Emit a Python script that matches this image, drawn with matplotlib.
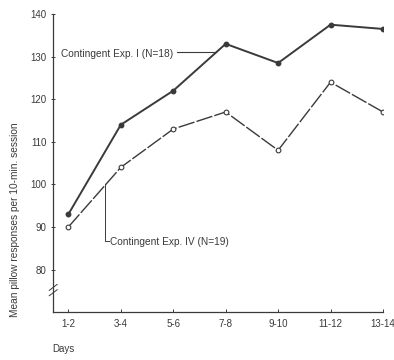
import matplotlib.pyplot as plt

plt.rcParams['font.family'] = ['Liberation Sans', 'DejaVu Sans']

DAYS = ["1-2", "3-4", "5-6", "7-8", "9-10", "11-12", "13-14"]
EXP_I = [93, 114, 122, 133, 128.5, 137.5, 136.5]
EXP_IV = [90, 104, 113, 117, 108, 124, 117]
Y_TICKS = [80, 90, 100, 110, 120, 130, 140]

INK = "#3a3a3a"

fig = plt.figure(figsize=(3.94, 3.60), dpi=100)
ax = fig.add_axes([0.135, 0.133, 0.837, 0.828])

x = list(range(len(DAYS)))
ax.plot(x, EXP_I, color=INK, lw=1.4, marker="o", ms=3.2,
        mfc=INK, mec=INK, zorder=3)
ax.plot(x, EXP_IV, color=INK, lw=1.0, ls=(0, (12, 1.5)), marker="o", ms=3.4,
        mfc="white", mec=INK, mew=0.8, zorder=3)

ax.set_xlim(-0.29, 6)
ax.set_ylim(70, 140)
ax.set_xticks(x)
ax.set_xticklabels(DAYS)
ax.set_yticks(Y_TICKS)
ax.tick_params(axis="both", colors=INK, labelsize=7, length=2.5,
               width=0.7, direction="inout")
ax.tick_params(axis="x", direction="in", pad=5)
for s in ("top", "right"):
    ax.spines[s].set_visible(False)
for s in ("left", "bottom"):
    ax.spines[s].set_color(INK)
    ax.spines[s].set_linewidth(0.9)

# axis break marks
for dy in (0.0, 0.018):
    ax.plot([-0.012, 0.012], [0.055 + dy, 0.075 + dy], transform=ax.transAxes,
            color=INK, lw=0.7, clip_on=False)

fig.text(0.038, 0.39, "Mean pillow responses per 10-min. session", fontsize=7.3,
         color=INK, rotation=90, ha="center", va="center")
fig.text(0.132, 0.022, "Days", fontsize=7, color=INK)

# series labels with leader lines
ax.text(-0.15, 130.7, "Contingent Exp. I (N=18)", fontsize=7.3, color=INK,
        va="center", ha="left")
ax.plot([2.08, 2.82], [131.0, 131.0], color=INK, lw=0.8)

ax.plot([0.705, 0.705, 0.78], [100.0, 86.6, 86.6], color=INK, lw=0.7)
ax.text(0.8, 86.5, "Contingent Exp. IV (N=19)", fontsize=7.3, color=INK,
        va="center", ha="left")

fig.savefig("out.png", dpi=100)
